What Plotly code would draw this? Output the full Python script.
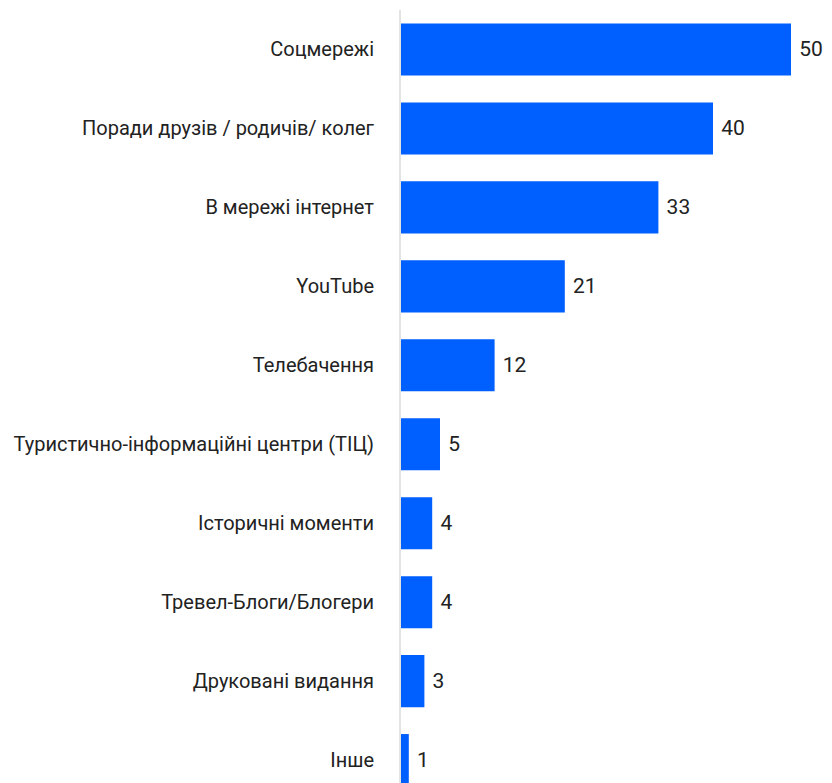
import plotly.graph_objects as go

categories = [
    "Соцмережі",
    "Поради друзів / родичів/ колег",
    "В мережі інтернет",
    "YouTube",
    "Телебачення",
    "Туристично-інформаційні центри (ТІЦ)",
    "Історичні моменти",
    "Тревел-Блоги/Блогери",
    "Друковані видання",
    "Інше",
]
values = [50, 40, 33, 21, 12, 5, 4, 4, 3, 1]

fig = go.Figure(go.Bar(
    x=values,
    y=categories,
    orientation="h",
    marker=dict(color="#005FFF", line=dict(width=0)),
    width=0.66,
    text=values,
    texttemplate=" %{x}",
    textposition="outside",
    textfont=dict(family="Roboto", size=21, color="#222222"),
    cliponaxis=False,
))

fig.update_layout(
    width=824,
    height=775,
    margin=dict(l=393, r=2, t=2, b=0),
    paper_bgcolor="white",
    plot_bgcolor="white",
    showlegend=False,
    font=dict(family="Roboto", color="#222222"),
    xaxis=dict(range=[0, 55], visible=False, showgrid=False, zeroline=False),
    yaxis=dict(
        categoryorder="array",
        categoryarray=categories,
        range=[9.29, -0.5],
        showline=True,
        linecolor="#e3e3e3",
        linewidth=2,
        showgrid=False,
        ticks="",
        ticklabelstandoff=21,
        tickfont=dict(family="Roboto", size=20, color="#222222"),
    ),
    bargap=0.34,
)

fig.write_html("out.html")
